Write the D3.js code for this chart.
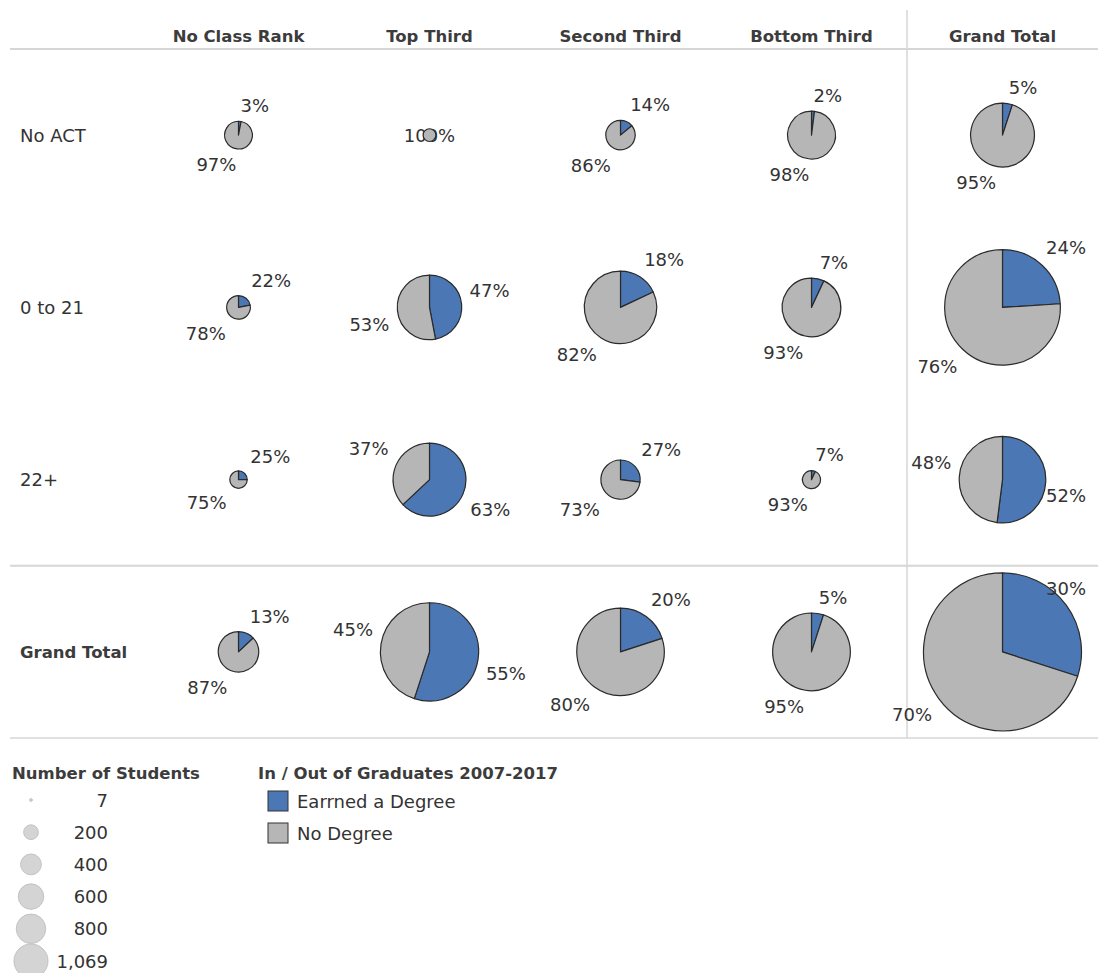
<!DOCTYPE html>
<html>
<head>
<meta charset="utf-8">
<script src="https://cdn.jsdelivr.net/npm/d3@7"></script>
<style>
  html, body { margin: 0; padding: 0; background: #fff; }
  svg { display: block; font-family: "DejaVu Sans", "Noto Sans", sans-serif; }
</style>
</head>
<body>
<svg id="chart" width="1098" height="973"></svg>
<script>
// ---------------- data ----------------
const columns = ["No Class Rank", "Top Third", "Second Third", "Bottom Third", "Grand Total"];
const rows = ["No ACT", "0 to 21", "22+", "Grand Total"];

const studentsNoACT   = [33, 7, 37, 98, 175];
const students0to21   = [24, 178, 224, 147, 573];
const students22plus  = [13, 228, 66, 14, 321];
const studentsTotal   = [70, 413, 327, 259, 1069];

// % Earned a Degree per cell (columns order)
const earnedNoACT   = [3, 0, 14, 2, 5];
const earned0to21   = [22, 47, 18, 7, 24];
const earned22plus  = [25, 63, 27, 7, 52];
const earnedTotal   = [13, 55, 20, 5, 30];

const degreeCategories = ["Earrned a Degree", "No Degree"];
const sizeLegendValues = [7, 200, 400, 600, 800, 1069];
const sizeLegendLabels = ["7", "200", "400", "600", "800", "1,069"];

// ---------------- setup ----------------
const studentsByRow = [studentsNoACT, students0to21, students22plus, studentsTotal];
const earnedByRow = [earnedNoACT, earned0to21, earned22plus, earnedTotal];

const svg = d3.select("#chart");
const W = 1098;
const textColor = "#333333";
const headColor = "#3c3c3c";
const blue = "#4b78b5";
const grey = "#b6b6b6";
const fs = 18;

const x = d3.scaleBand().domain(columns).range([143, 1098]);
const y = d3.scaleBand().domain(rows).range([49, 738]);
const r = d3.scaleSqrt().domain([0, 1069]).range([0, 79]);
const color = d3.scaleOrdinal().domain(degreeCategories).range([blue, grey]);

// grid lines
const lineColor = "#d6d6d6";
svg.append("line").attr("x1", 10).attr("x2", W).attr("y1", y.range()[0]).attr("y2", y.range()[0])
  .attr("stroke", lineColor).attr("stroke-width", 2);
svg.append("line").attr("x1", 10).attr("x2", W).attr("y1", y("Grand Total")).attr("y2", y("Grand Total"))
  .attr("stroke", lineColor).attr("stroke-width", 2);
svg.append("line").attr("x1", 10).attr("x2", W).attr("y1", y.range()[1]).attr("y2", y.range()[1])
  .attr("stroke", lineColor).attr("stroke-width", 1.5);
svg.append("line").attr("x1", x("Grand Total")).attr("x2", x("Grand Total")).attr("y1", 10).attr("y2", y.range()[1])
  .attr("stroke", lineColor).attr("stroke-width", 1.5);

// column headers
svg.append("g").selectAll("text").data(columns).join("text")
  .attr("x", d => x(d) + x.bandwidth() / 2)
  .attr("y", 42)
  .attr("text-anchor", "middle")
  .attr("font-size", 16.5).attr("font-weight", 700).attr("fill", headColor)
  .text(d => d);

// row headers
svg.append("g").selectAll("text").data(rows).join("text")
  .attr("x", 20)
  .attr("y", d => y(d) + y.bandwidth() / 2 + 6.5)
  .attr("font-size", d => d === "Grand Total" ? 16.5 : fs)
  .attr("font-weight", d => d === "Grand Total" ? 700 : 400)
  .attr("fill", d => d === "Grand Total" ? headColor : textColor)
  .text(d => d);

// pies
const pie = d3.pie().sort(null).value(d => d.value);
const labelBelow = svg.append("g");
const pieLayer = svg.append("g");
const labelLayer = svg.append("g");
const pad = 8;

rows.forEach((row, ri) => {
  columns.forEach((col, ci) => {
    const n = studentsByRow[ri][ci];
    const e = earnedByRow[ri][ci];
    const slices = [
      { cat: degreeCategories[0], value: e },
      { cat: degreeCategories[1], value: 100 - e }
    ];
    const cx = x(col) + x.bandwidth() / 2;
    const cy = y(row) + y.bandwidth() / 2;
    const rad = r(n);
    const arcs = pie(slices);
    const arc = d3.arc().innerRadius(0).outerRadius(rad);
    const g = pieLayer.append("g").attr("transform", `translate(${cx},${cy})`);
    g.selectAll("path").data(arcs.filter(a => a.data.value > 0)).join("path")
      .attr("d", arc)
      .attr("fill", a => color(a.data.cat))
      .attr("stroke", "#2a2a2a").attr("stroke-width", 1.2).attr("stroke-linejoin", "round");

    arcs.filter(a => a.data.value > 0).forEach(a => {
      const label = a.data.value + "%";
      if (a.data.value === 100) {
        labelBelow.append("text")
          .attr("x", cx).attr("y", cy + 6.5)
          .attr("text-anchor", "middle")
          .attr("font-size", fs).attr("fill", textColor).text(label);
        return;
      }
      const mid = (a.startAngle + a.endAngle) / 2;
      const dx = Math.sin(mid), dy = -Math.cos(mid);
      const px = cx + dx * (rad + pad);
      const py = cy + dy * (rad + pad);
      const vshift = 6 * Math.abs(dx) * (dy < 0 ? -1 : 1);
      const t = labelLayer.append("text")
        .attr("x", px)
        .attr("y", (dy < 0 ? py - 1 : py + 13.5) + vshift)
        .attr("text-anchor", dx >= 0 ? "start" : "end")
        .attr("font-size", fs).attr("fill", textColor).text(label);
      const bb = t.node().getBBox();
      if (bb.x + bb.width > W - 12) {
        t.attr("x", px - (bb.x + bb.width - (W - 12)));
      }
    });
  });
});

// ---------------- legends ----------------
const lr = d3.scaleSqrt().domain([0, 1069]).range([0, 17]);
svg.append("text").attr("x", 12).attr("y", 779)
  .attr("font-size", 16.5).attr("font-weight", 700).attr("fill", headColor)
  .text("Number of Students");
const sizeRows = d3.scalePoint().domain(sizeLegendValues).range([800, 961]);
const sl = svg.append("g").selectAll("g").data(sizeLegendValues).join("g")
  .attr("transform", d => `translate(0,${sizeRows(d)})`);
sl.append("circle").attr("cx", 31).attr("cy", 0).attr("r", d => lr(d))
  .attr("fill", "#d4d4d4").attr("stroke", "#c2c2c2").attr("stroke-width", 1);
sl.append("text").attr("x", 108).attr("y", 6.5).attr("text-anchor", "end")
  .attr("font-size", fs).attr("fill", textColor)
  .text((d, i) => sizeLegendLabels[i]);

svg.append("text").attr("x", 258).attr("y", 779)
  .attr("font-size", 16.5).attr("font-weight", 700).attr("fill", headColor)
  .text("In / Out of Graduates 2007-2017");
const colRows = d3.scalePoint().domain(degreeCategories).range([801, 833]);
const cl = svg.append("g").selectAll("g").data(degreeCategories).join("g")
  .attr("transform", d => `translate(0,${colRows(d)})`);
cl.append("rect").attr("x", 268).attr("y", -10).attr("width", 20).attr("height", 20)
  .attr("fill", d => color(d)).attr("stroke", "#333").attr("stroke-width", 1);
cl.append("text").attr("x", 297).attr("y", 6.5)
  .attr("font-size", fs).attr("fill", textColor).text(d => d);
</script>
</body>
</html>
